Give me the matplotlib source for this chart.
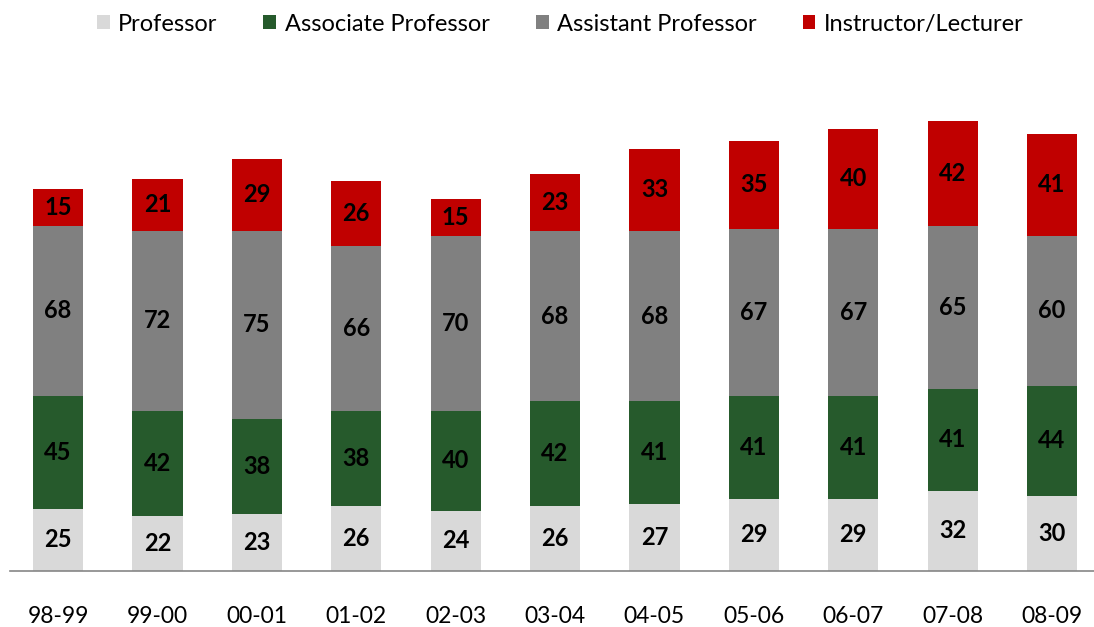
import matplotlib
matplotlib.use("Agg")
import matplotlib.pyplot as plt
import numpy as np

plt.rcParams['font.family'] = ['Lato', 'DejaVu Sans']

categories = ["98-99", "99-00", "00-01", "01-02", "02-03", "03-04", "04-05", "05-06", "06-07", "07-08", "08-09"]
professor = [25, 22, 23, 26, 24, 26, 27, 29, 29, 32, 30]
associate = [45, 42, 38, 38, 40, 42, 41, 41, 41, 41, 44]
assistant = [68, 72, 75, 66, 70, 68, 68, 67, 67, 65, 60]
instructor = [15, 21, 29, 26, 15, 23, 33, 35, 40, 42, 41]

series = [
    ("Professor", professor, "#D9D9D9"),
    ("Associate Professor", associate, "#265A2C"),
    ("Assistant Professor", assistant, "#808080"),
    ("Instructor/Lecturer", instructor, "#C00000"),
]

fig = plt.figure(figsize=(10.94, 6.27), dpi=100)
ax = fig.add_axes([10/1094, 56/627, 1084/1094, 511/627])

x = np.arange(len(categories))
bottom = np.zeros(len(categories))
for name, vals, color in series:
    vals = np.array(vals, dtype=float)
    ax.bar(x, vals, width=0.505, bottom=bottom, color=color, label=name, zorder=2)
    for xi, b, v in zip(x, bottom, vals):
        ax.text(xi, b + v / 2, f"{int(v)}", ha="center", va="center",
                fontsize=17, fontweight="bold", color="black", zorder=3)
    bottom += vals

ax.set_xlim(-0.483, -0.483 + 1084 / 99.4)
ax.set_ylim(0, 511 / 2.5)
for s in ["top", "right", "left"]:
    ax.spines[s].set_visible(False)
ax.spines["bottom"].set_color("#868686")
ax.spines["bottom"].set_linewidth(1.2)
ax.set_yticks([])
ax.set_xticks(x)
ax.set_xticklabels(categories, fontsize=16.5)
ax.tick_params(axis="x", length=0, pad=25)

fig.legend(loc="upper center", bbox_to_anchor=(0.512, 1.012), ncol=4, frameon=False,
           fontsize=17, handlelength=0.55, handleheight=0.55, handletextpad=0.35,
           columnspacing=1.95)

fig.savefig("out.png", dpi=100)
